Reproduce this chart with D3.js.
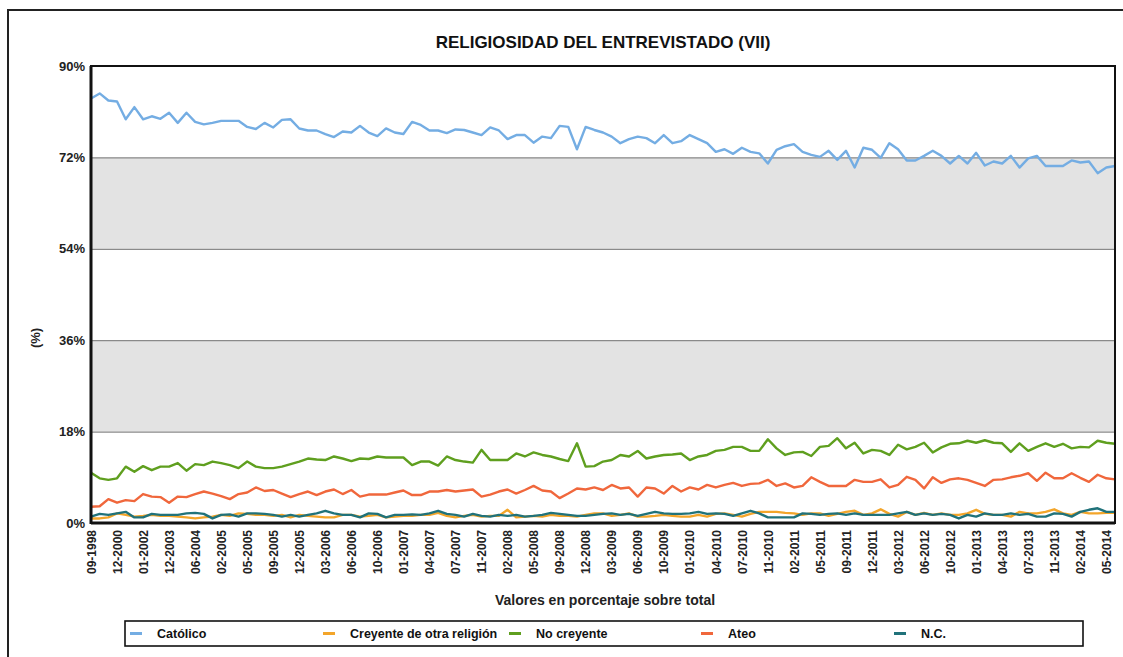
<!DOCTYPE html>
<html>
<head>
<meta charset="utf-8">
<script src="https://cdn.jsdelivr.net/npm/d3@7.9.0/dist/d3.min.js"></script>
<style>
  body { margin: 0; background: #fff; }
  svg { display: block; font-family: "Liberation Sans", Arial, sans-serif; }
</style>
</head>
<body>
<div id="chart"></div>
<script>
// Survey months (one per data point); only every 3rd one is labelled on the axis
const months = ('09-1998 03-1999 12-1999 12-2000 06-2001 10-2001 01-2002 06-2002 04-2003 12-2003 ' +
  '02-2004 04-2004 06-2004 10-2004 12-2004 02-2005 03-2005 04-2005 05-2005 06-2005 07-2005 09-2005 ' +
  '10-2005 11-2005 12-2005 01-2006 02-2006 03-2006 04-2006 05-2006 06-2006 07-2006 09-2006 10-2006 ' +
  '11-2006 12-2006 01-2007 02-2007 03-2007 04-2007 05-2007 06-2007 07-2007 09-2007 10-2007 11-2007 ' +
  '12-2007 01-2008 02-2008 03-2008 04-2008 05-2008 06-2008 07-2008 09-2008 10-2008 11-2008 12-2008 ' +
  '01-2009 02-2009 03-2009 04-2009 05-2009 06-2009 07-2009 09-2009 10-2009 11-2009 12-2009 01-2010 ' +
  '02-2010 03-2010 04-2010 05-2010 06-2010 07-2010 09-2010 10-2010 11-2010 12-2010 01-2011 02-2011 ' +
  '03-2011 04-2011 05-2011 06-2011 07-2011 09-2011 10-2011 11-2011 12-2011 01-2012 02-2012 03-2012 ' +
  '04-2012 05-2012 06-2012 07-2012 09-2012 10-2012 11-2012 12-2012 01-2013 02-2013 03-2013 04-2013 ' +
  '05-2013 06-2013 07-2013 09-2013 10-2013 11-2013 12-2013 01-2014 02-2014 03-2014 04-2014 05-2014 06-2014').split(' ');

const catolico = [
  83.6, 84.6, 83.2, 83.0, 79.5, 81.9, 79.5, 80.1, 79.6, 80.8,
  78.8, 80.8, 79.0, 78.5, 78.8, 79.2, 79.2, 79.2, 78.0, 77.6,
  78.8, 77.9, 79.4, 79.5, 77.7, 77.3, 77.3, 76.6, 76.0, 77.1,
  76.9, 78.2, 76.9, 76.2, 77.7, 76.9, 76.6, 79.0, 78.4, 77.3,
  77.3, 76.8, 77.5, 77.4, 76.9, 76.4, 77.9, 77.3, 75.6, 76.4,
  76.4, 74.9, 76.1, 75.8, 78.2, 78.0, 73.6, 78.0, 77.4,
  76.9, 76.1, 74.8, 75.6, 76.1, 75.8, 74.8, 76.4, 74.8, 75.2,
  76.4, 75.6, 74.8, 73.1, 73.6, 72.7, 73.9, 73.1, 72.8, 70.8,
  73.5, 74.2, 74.6, 73.1, 72.5, 72.1, 73.3, 71.5, 73.3, 70.0,
  73.9, 73.5, 71.9, 74.8, 73.6, 71.4, 71.4, 72.3, 73.3, 72.3,
  70.8, 72.3, 70.8, 72.9, 70.4, 71.2, 70.8, 72.3, 70.0, 71.8,
  72.3, 70.3, 70.3, 70.3, 71.4, 71.0, 71.2, 68.9, 70.0, 70.3
];

const otraReligion = [
  0.9, 0.9, 1.1, 1.9, 1.6, 1.25, 1.4, 1.6, 1.4, 1.4,
  1.25, 1.1, 0.9, 1.1, 1.25, 1.6, 1.4, 1.9, 1.8, 1.6,
  1.6, 1.4, 1.6, 1.1, 1.6, 1.4, 1.25, 1.1, 1.1, 1.6,
  1.6, 1.25, 1.4, 1.6, 1.1, 1.25, 1.4, 1.4, 1.6, 1.6,
  2.0, 1.4, 1.1, 1.4, 1.6, 1.25, 1.4, 1.4, 2.6, 1.1,
  1.25, 1.4, 1.25, 1.6, 1.4, 1.4, 1.25,
  1.6, 1.9, 1.9, 1.4, 1.6, 1.9, 1.25, 1.25, 1.4, 1.6,
  1.4, 1.25, 1.25, 1.6, 1.25, 1.8, 1.9, 1.6, 1.25, 1.8,
  2.2, 2.2, 2.2, 2.0, 1.9, 1.6, 1.9, 1.9, 1.4, 1.8,
  2.2, 2.4, 1.6, 1.9, 2.7, 1.8, 1.25, 2.2, 1.6, 2.0,
  1.6, 1.9, 1.6, 1.6, 1.9, 2.6, 1.8, 1.6, 1.6, 1.25,
  2.2, 1.9, 1.9, 2.2, 2.7, 1.9, 1.6, 2.2, 1.9, 1.9,
  2.0, 2.0
];

const noCreyente = [
  9.9, 8.8, 8.5, 8.8, 11.1, 10.1, 11.2, 10.4, 11.1, 11.1,
  11.8, 10.3, 11.6, 11.4, 12.1, 11.8, 11.4, 10.8, 12.1, 11.1,
  10.8, 10.8, 11.1, 11.6, 12.1, 12.7, 12.5, 12.4, 13.1, 12.7,
  12.2, 12.7, 12.6, 13.1, 12.9, 12.9, 12.9, 11.4, 12.1, 12.1,
  11.3, 13.1, 12.4, 12.1, 11.9, 14.4, 12.4, 12.4, 12.4, 13.7,
  13.1, 13.9, 13.4, 13.1, 12.6, 12.2, 15.7,
  11.1, 11.2, 12.1, 12.4, 13.4, 13.1, 14.2, 12.7, 13.1, 13.4,
  13.5, 13.7, 12.4, 13.1, 13.4, 14.2, 14.4, 15.0, 15.0, 14.2,
  14.2, 16.5, 14.7, 13.4, 13.9, 14.0, 13.2, 15.0, 15.2, 16.7,
  14.7, 15.8, 13.7, 14.4, 14.2, 13.4, 15.4, 14.5, 15.0, 15.8,
  13.9, 14.9, 15.6, 15.7, 16.2, 15.8, 16.3, 15.8, 15.7, 14.0,
  15.7, 14.2, 15.0, 15.7, 15.0, 15.6, 14.7, 15.0, 14.9, 16.2,
  15.8, 15.6
];

const ateo = [
  3.2, 3.3, 4.7, 4.0, 4.5, 4.3, 5.7, 5.2, 5.1, 4.0,
  5.2, 5.1, 5.7, 6.2, 5.8, 5.3, 4.7, 5.7, 6.0, 7.0,
  6.3, 6.5, 5.8, 5.1, 5.7, 6.2, 5.5, 6.2, 6.6, 5.7,
  6.5, 5.2, 5.6, 5.6, 5.6, 6.0, 6.4, 5.5, 5.5, 6.2,
  6.2, 6.5, 6.2, 6.4, 6.6, 5.2, 5.6, 6.2, 6.6, 5.8,
  6.5, 7.3, 6.4, 6.2, 4.9, 5.8, 6.8,
  6.6, 7.0, 6.5, 7.5, 6.8, 7.0, 5.2, 7.0, 6.8, 5.8,
  7.3, 6.2, 7.0, 6.6, 7.5, 7.0, 7.5, 7.9, 7.3, 7.7,
  7.8, 8.5, 7.3, 7.8, 7.0, 7.3, 9.0, 8.1, 7.3, 7.3,
  7.3, 8.5, 8.1, 8.1, 8.6, 7.0, 7.5, 9.1, 8.5, 6.8,
  9.0, 7.9, 8.6, 8.8, 8.5, 7.9, 7.3, 8.5, 8.6, 9.0,
  9.3, 9.8, 8.3, 9.9, 8.8, 8.8, 9.8, 8.9, 8.1, 9.5,
  8.8, 8.6
];

const nc = [
  1.25, 1.8, 1.6, 1.9, 2.2, 1.1, 1.1, 1.8, 1.6, 1.6,
  1.6, 1.9, 2.0, 1.8, 0.9, 1.6, 1.7, 1.25, 1.9, 1.9,
  1.8, 1.6, 1.25, 1.6, 1.25, 1.6, 1.9, 2.4, 1.9, 1.6,
  1.6, 1.1, 1.9, 1.8, 1.1, 1.6, 1.6, 1.7, 1.6, 1.9,
  2.4, 1.8, 1.6, 1.25, 1.8, 1.4, 1.25, 1.6, 1.4, 1.6,
  1.25, 1.4, 1.6, 2.0, 1.8, 1.6, 1.4,
  1.4, 1.6, 1.8, 1.9, 1.6, 1.8, 1.4, 1.8, 2.2, 1.9,
  1.8, 1.8, 1.9, 2.2, 1.8, 1.9, 1.8, 1.4, 1.9, 2.4,
  1.9, 1.1, 1.1, 1.1, 1.1, 1.9, 1.8, 1.6, 1.8, 1.9,
  1.6, 1.9, 1.6, 1.6, 1.6, 1.6, 1.9, 2.2, 1.6, 1.9,
  1.6, 1.8, 1.6, 0.9, 1.6, 1.25, 1.9, 1.6, 1.6, 1.9,
  1.6, 1.8, 1.25, 1.25, 1.9, 1.8, 1.25, 2.2, 2.6, 2.9,
  2.2, 2.2
];

const seriesNames = ['Católico', 'Creyente de otra religión', 'No creyente', 'Ateo', 'N.C.'];
const seriesValues = [catolico, otraReligion, noCreyente, ateo, nc];
const seriesColors = ['#74ade3', '#f3a52a', '#5f9f1f', '#f0673c', '#20727a'];
const yTicks = [0, 18, 36, 54, 72, 90];

const width = 1123;
const height = 657;
const plot = { left: 91, right: 1115, top: 66, bottom: 523 };
const font = '"Liberation Sans", Arial, sans-serif';

const svg = d3.select('#chart')
  .append('svg')
  .attr('width', width)
  .attr('height', height);

// outer frame (runs off the right and bottom edges, as in the picture)
svg.append('rect')
  .attr('x', 8).attr('y', 10)
  .attr('width', 1130).attr('height', 670)
  .attr('fill', '#fff')
  .attr('stroke', '#222')
  .attr('stroke-width', 2);

svg.append('text')
  .attr('x', 603).attr('y', 48)
  .attr('text-anchor', 'middle')
  .attr('font-size', 17).attr('font-weight', 'bold')
  .attr('fill', '#111')
  .text('RELIGIOSIDAD DEL ENTREVISTADO (VII)');

// Scales
const x = d3.scalePoint()
  .domain(months)
  .range([plot.left, plot.right]);

const y = d3.scaleLinear()
  .domain([0, 90])
  .range([plot.bottom, plot.top]);

// alternating grey bands
const bands = [[18, 36], [54, 72]];
svg.append('g')
  .selectAll('rect')
  .data(bands)
  .join('rect')
  .attr('x', plot.left)
  .attr('width', plot.right - plot.left)
  .attr('y', (d) => y(d[1]))
  .attr('height', (d) => y(d[0]) - y(d[1]))
  .attr('fill', '#e3e3e3');

// gridlines
svg.append('g')
  .attr('transform', `translate(${plot.left},0)`)
  .call(d3.axisLeft(y).tickValues(yTicks).tickFormat('').tickSize(-(plot.right - plot.left)))
  .call((g) => g.select('.domain').remove())
  .call((g) => g.selectAll('line').attr('stroke', '#8a8a8a').attr('stroke-width', 1.2));

// y axis labels
svg.append('g')
  .attr('transform', `translate(${plot.left},0)`)
  .call(d3.axisLeft(y).tickValues(yTicks).tickSize(0).tickPadding(6).tickFormat((d) => d + '%'))
  .call((g) => g.select('.domain').remove())
  .call((g) => g.selectAll('text')
    .attr('font-family', font)
    .attr('font-size', 13).attr('font-weight', 'bold').attr('fill', '#222'));

// x axis labels, vertical
const xTickValues = months.filter((d, i) => i % 3 === 0);
svg.append('g')
  .attr('transform', `translate(0,${plot.bottom})`)
  .call(d3.axisBottom(x).tickValues(xTickValues).tickSize(0))
  .call((g) => g.select('.domain').remove())
  .call((g) => g.selectAll('text')
    .attr('font-family', font)
    .attr('font-size', 12).attr('font-weight', 'bold').attr('fill', '#222')
    .attr('text-anchor', 'end')
    .attr('transform', 'rotate(-90)')
    .attr('x', -7).attr('y', 0).attr('dy', '0.35em'));

// lines
const line = d3.line()
  .x((d, i) => x(months[i]))
  .y((d) => y(d));

svg.append('g')
  .selectAll('path')
  .data(seriesValues)
  .join('path')
  .attr('d', (d) => line(d))
  .attr('fill', 'none')
  .attr('stroke', (d, i) => seriesColors[i])
  .attr('stroke-width', 2.4)
  .attr('stroke-linejoin', 'round');

// plot border: thicker on left and bottom
svg.append('rect')
  .attr('x', plot.left).attr('y', plot.top)
  .attr('width', plot.right - plot.left).attr('height', plot.bottom - plot.top)
  .attr('fill', 'none').attr('stroke', '#111').attr('stroke-width', 2);
svg.append('line')
  .attr('x1', plot.left).attr('x2', plot.left)
  .attr('y1', plot.top).attr('y2', plot.bottom + 1)
  .attr('stroke', '#111').attr('stroke-width', 3);
svg.append('line')
  .attr('x1', plot.left).attr('x2', plot.right)
  .attr('y1', plot.bottom).attr('y2', plot.bottom)
  .attr('stroke', '#111').attr('stroke-width', 3);

// axis titles
svg.append('text')
  .attr('transform', `translate(40,338) rotate(-90)`)
  .attr('text-anchor', 'middle')
  .attr('font-size', 13).attr('font-weight', 'bold').attr('fill', '#222')
  .text('(%)');

svg.append('text')
  .attr('x', 605).attr('y', 605)
  .attr('text-anchor', 'middle')
  .attr('font-size', 14).attr('font-weight', 'bold').attr('fill', '#222')
  .text('Valores en porcentaje sobre total');

// legend
const legendX = [130, 323, 509, 701, 894];
const legend = svg.append('g');
legend.append('rect')
  .attr('x', 125).attr('y', 621)
  .attr('width', 958).attr('height', 25)
  .attr('fill', '#fff').attr('stroke', '#111').attr('stroke-width', 1.6);

const items = legend.selectAll('g')
  .data(seriesNames)
  .join('g')
  .attr('transform', (d, i) => `translate(${legendX[i]},633.5)`);
items.append('line')
  .attr('x1', 0).attr('x2', 12)
  .attr('stroke', (d, i) => seriesColors[i])
  .attr('stroke-width', 3);
items.append('text')
  .attr('x', 27).attr('dy', '0.35em')
  .attr('font-size', 12.5).attr('font-weight', 'bold').attr('fill', '#111')
  .text((d) => d);
</script>
</body>
</html>
